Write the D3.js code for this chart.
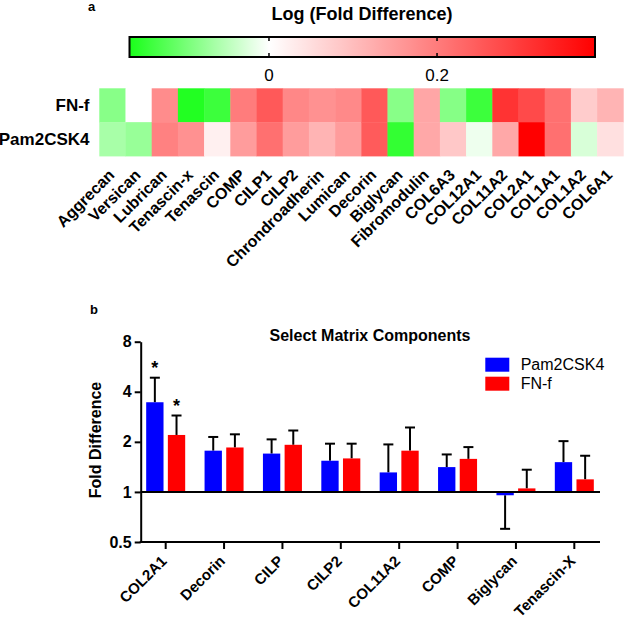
<!DOCTYPE html>
<html><head><meta charset="utf-8">
<script src="https://cdn.jsdelivr.net/npm/d3@7"></script>
<style>
body{margin:0;background:#fff}
text{font-family:"Liberation Sans",Arial,Helvetica,sans-serif;fill:#000}
</style>
</head><body>
<svg id="chart" width="625" height="622"></svg>
<script>
// ---------- Panel a: heatmap data (log10 fold difference) ----------
const genes = ["Aggrecan","Versican","Lubrican","Tenascin-x","Tenascin","COMP","CILP1","CILP2",
  "Chrondroadherin","Lumican","Decorin","Biglycan","Fibromodulin","COL6A3","COL12A1","COL11A2",
  "COL2A1","COL1A1","COL1A2","COL6A1"];
const heatRows = ["FN-f","Pam2CSK4"];
const fnfLog = [-0.086,0,0.175,-0.16,-0.141,0.2,0.252,0.182,0.168,0.18,0.252,-0.086,0.135,-0.088,-0.141,0.31,0.276,0.218,0.078,0.114];
const pamLog = [-0.063,-0.075,0.192,0.168,0.023,0.15,0.218,0.15,0.114,0.15,0.25,-0.148,0.133,0.084,-0.012,0.133,0.388,0.218,-0.028,0.047];
const colorTicks = [0, 0.2];
const colorDomain = [-0.166, 0, 0.388];

// ---------- Panel b: bar chart data (fold difference) ----------
const barCats = ["COL2A1","Decorin","CILP","CILP2","COL11A2","COMP","Biglycan","Tenascin-X"];
const barSeries = ["Pam2CSK4","FN-f"];
const pamFold = [3.46,1.77,1.70,1.54,1.31,1.41,0.955,1.51];
const pamErr  = [4.86,2.14,2.07,1.95,1.93,1.68,0.60,2.02];
const fnfFold = [2.20,1.85,1.92,1.59,1.77,1.58,1.05,1.19];
const fnfErr  = [2.88,2.22,2.34,1.95,2.44,1.86,1.36,1.65];
const pamSig = [true,false,false,false,false,false,false,false];
const fnfSig = [true,false,false,false,false,false,false,false];
const yTicks = [0.5,1,2,4,8];
const seriesColors = ["#0000ff","#ff0000"];

const svg = d3.select("#chart");
const FONT = '"Liberation Sans",Arial,Helvetica,sans-serif';

// ================= Panel a =================
svg.append("text").attr("x",88).attr("y",11).attr("font-size",13).attr("font-weight","bold").text("a");
svg.append("text").attr("x",362).attr("y",20).attr("text-anchor","middle")
  .attr("font-size",18).attr("font-weight","bold").text("Log (Fold Difference)");

const color = d3.scaleLinear().domain(colorDomain).range(["#1aff1a","#ffffff","#ff0000"]);
const cbx = d3.scaleLinear().domain([colorDomain[0], colorDomain[2]]).range([129.5, 595]);
const cbTop = 37, cbBot = 57;
const defs = svg.append("defs");
const grad = defs.append("linearGradient").attr("id","cbgrad").attr("x1","0%").attr("x2","100%");
d3.range(0, 1.0001, 0.02).forEach(t => {
  const v = colorDomain[0] + t*(colorDomain[2]-colorDomain[0]);
  grad.append("stop").attr("offset", (t*100)+"%").attr("stop-color", color(v));
});
svg.append("rect").attr("x",cbx.range()[0]).attr("y",cbTop).attr("width",cbx.range()[1]-cbx.range()[0])
  .attr("height",cbBot-cbTop).attr("fill","url(#cbgrad)").attr("stroke","#000").attr("stroke-width",2);
const cbt = svg.append("g");
colorTicks.forEach(t => {
  cbt.append("line").attr("x1",cbx(t)).attr("x2",cbx(t)).attr("y1",cbTop).attr("y2",cbTop+4).attr("stroke","#000").attr("stroke-width",1.5);
  cbt.append("line").attr("x1",cbx(t)).attr("x2",cbx(t)).attr("y1",cbBot-4).attr("y2",cbBot).attr("stroke","#000").attr("stroke-width",1.5);
  cbt.append("text").attr("x",cbx(t)).attr("y",81).attr("text-anchor","middle").attr("font-size",17).text(d3.format("")(t));
});

const hx = d3.scaleBand().domain(genes).range([99.3, 623.3]);
const hy = d3.scaleBand().domain(heatRows).range([88.3, 156]);
const heatData = [];
genes.forEach((g,i) => {
  heatData.push({row:"FN-f", gene:g, v:fnfLog[i]});
  heatData.push({row:"Pam2CSK4", gene:g, v:pamLog[i]});
});
svg.append("g").selectAll("rect").data(heatData).join("rect")
  .attr("x", d => hx(d.gene)).attr("y", d => hy(d.row))
  .attr("width", hx.bandwidth()+0.4).attr("height", hy.bandwidth()+0.4)
  .attr("fill", d => color(d.v));

svg.append("g").selectAll("text").data(heatRows).join("text")
  .attr("x", 89.5).attr("y", d => hy(d)+hy.bandwidth()/2+6)
  .attr("text-anchor","end").attr("font-size",17).attr("font-weight","bold").text(d => d);

svg.append("g").selectAll("text").data(genes).join("text")
  .attr("transform", d => `translate(${hx(d)+hx.bandwidth()/2+3},${176}) rotate(-45)`)
  .attr("text-anchor","end").attr("font-size",16).attr("font-weight","bold").text(d => d);

// ================= Panel b =================
svg.append("text").attr("x",90).attr("y",314).attr("font-size",13).attr("font-weight","bold").text("b");
svg.append("text").attr("x",370).attr("y",341).attr("text-anchor","middle")
  .attr("font-size",16).attr("font-weight","bold").text("Select Matrix Components");

const axisX0 = 140.7, axisX1 = 600;
const y = d3.scaleLog().base(2).domain([0.5, 8]).range([542, 341.7]);
const x = d3.scaleBand().domain(barCats).range([136.5, 603.5]);
const xs = d3.scaleBand().domain(barSeries).range([-19.5, 19.5]).paddingInner(0.2);

const barData = [];
barCats.forEach((c,i) => {
  barData.push({cat:c, s:"Pam2CSK4", v:pamFold[i], e:pamErr[i], sig:pamSig[i]});
  barData.push({cat:c, s:"FN-f", v:fnfFold[i], e:fnfErr[i], sig:fnfSig[i]});
});
const cx = d => x(d.cat) + x.bandwidth()/2 + xs(d.s);

// error bars
const eg = svg.append("g").attr("stroke","#000").attr("stroke-width",2);
barData.forEach(d => {
  const xc = cx(d) + xs.bandwidth()/2;
  eg.append("line").attr("x1",xc).attr("x2",xc).attr("y1",y(d.v)).attr("y2",y(d.e));
  eg.append("line").attr("x1",xc-5).attr("x2",xc+5).attr("y1",y(d.e)).attr("y2",y(d.e));
});
// bars
svg.append("g").selectAll("rect").data(barData).join("rect")
  .attr("x", d => cx(d)).attr("width", xs.bandwidth())
  .attr("y", d => Math.min(y(d.v), y(1)))
  .attr("height", d => Math.abs(y(d.v) - y(1)))
  .attr("fill", d => seriesColors[barSeries.indexOf(d.s)]);
// significance stars
svg.append("g").selectAll("text").data(barData.filter(d => d.sig)).join("text")
  .attr("x", d => cx(d) + xs.bandwidth()/2).attr("y", d => y(d.e) - 4)
  .attr("text-anchor","middle").attr("font-size",18).attr("font-weight","bold").text("*");

// baseline at 1
svg.append("line").attr("x1",axisX0).attr("x2",axisX1).attr("y1",y(1)).attr("y2",y(1))
  .attr("stroke","#000").attr("stroke-width",2);

// y axis
const yAxis = svg.append("g").attr("transform",`translate(${axisX0},0)`)
  .call(d3.axisLeft(y).tickValues(yTicks).tickFormat(d3.format("")).tickSize(6).tickSizeOuter(0).tickPadding(3));
yAxis.selectAll("path,line").attr("stroke","#000").attr("stroke-width",2);
yAxis.selectAll("text").attr("font-size",16).attr("font-weight","bold").attr("font-family",FONT).attr("fill","#000");

// x axis
const xAxis = svg.append("g").attr("transform",`translate(0,${y(0.5)})`)
  .call(d3.axisBottom(x).tickSize(7).tickSizeOuter(0));
xAxis.select(".domain").remove();
xAxis.append("line").attr("x1",axisX0-1).attr("x2",axisX1).attr("y1",0).attr("y2",0).attr("stroke","#000").attr("stroke-width",2);
xAxis.selectAll(".tick line").attr("stroke","#000").attr("stroke-width",2);
xAxis.selectAll(".tick text").attr("x",0).attr("y",0).attr("dy",0)
  .attr("transform","translate(2,20) rotate(-45)").attr("text-anchor","end")
  .attr("font-size",15).attr("font-weight","bold").attr("font-family",FONT).attr("fill","#000");

// y label
svg.append("text").attr("transform",`translate(101,440) rotate(-90)`).attr("text-anchor","middle")
  .attr("font-size",16).attr("font-weight","bold").text("Fold Difference");

// legend
const lg = svg.append("g");
barSeries.forEach((s,i) => {
  lg.append("rect").attr("x",485.3).attr("y",357.7 + i*19).attr("width",24).attr("height",14).attr("fill",seriesColors[i]);
  lg.append("text").attr("x",520.7).attr("y",370 + i*19).attr("font-size",16).text(s);
});
</script>
</body></html>
